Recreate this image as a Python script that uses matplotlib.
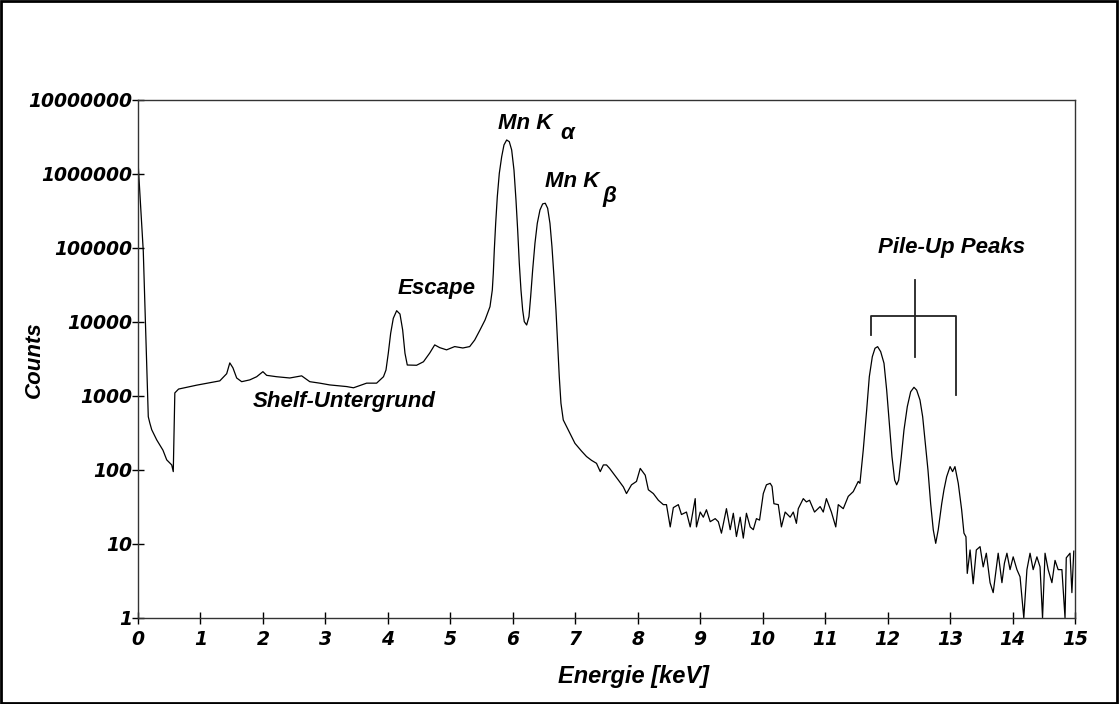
import matplotlib
matplotlib.use('Agg')
import matplotlib.pyplot as plt
from matplotlib.font_manager import FontProperties
from matplotlib.patches import Rectangle

# spectrum (energy in keV, counts)
energy = [0.00, 0.085, 0.165, 0.19, 0.22, 0.30, 0.40, 0.46, 0.54, 0.565, 0.59, 0.65,
          0.94, 1.31, 1.42, 1.47, 1.52, 1.58, 1.66, 1.79, 1.90, 2.00, 2.06, 2.22,
          2.43, 2.62, 2.75, 2.91, 3.07, 3.34, 3.45, 3.66, 3.82, 3.93, 3.97, 4.007,
          4.045, 4.087, 4.141, 4.194, 4.237, 4.274, 4.311, 4.46, 4.57, 4.67, 4.75, 4.83,
          4.94, 5.07, 5.20, 5.31, 5.39, 5.475, 5.555, 5.635, 5.672, 5.688, 5.704, 5.726,
          5.752, 5.784, 5.822, 5.859, 5.902, 5.944, 5.982, 6.019, 6.051, 6.078, 6.104, 6.131,
          6.158, 6.184, 6.222, 6.259, 6.286, 6.318, 6.355, 6.392, 6.435, 6.478, 6.520, 6.558,
          6.595, 6.627, 6.659, 6.691, 6.718, 6.744, 6.771, 6.808, 6.862, 6.915, 6.995, 7.10,
          7.18, 7.26, 7.34, 7.40, 7.45, 7.50, 7.55, 7.61, 7.69, 7.77, 7.82, 7.90,
          7.98, 8.04, 8.12, 8.17, 8.25, 8.33, 8.41, 8.46, 8.52, 8.57, 8.65, 8.70,
          8.78, 8.84, 8.92, 8.94, 9.00, 9.05, 9.10, 9.16, 9.24, 9.29, 9.34, 9.42,
          9.48, 9.53, 9.58, 9.64, 9.69, 9.74, 9.80, 9.85, 9.90, 9.95, 10.01, 10.06,
          10.12, 10.15, 10.18, 10.25, 10.30, 10.36, 10.44, 10.49, 10.54, 10.57, 10.65, 10.70,
          10.75, 10.83, 10.92, 10.97, 11.02, 11.10, 11.17, 11.21, 11.29, 11.37, 11.45, 11.53,
          11.557, 11.61, 11.665, 11.707, 11.755, 11.798, 11.84, 11.889, 11.942, 11.985, 12.027, 12.07,
          12.113, 12.145, 12.177, 12.219, 12.262, 12.315, 12.369, 12.422, 12.465, 12.518, 12.561, 12.603,
          12.646, 12.689, 12.731, 12.77, 12.81, 12.866, 12.902, 12.945, 13.00, 13.04, 13.078, 13.131,
          13.185, 13.222, 13.254, 13.275, 13.32, 13.37, 13.42, 13.48, 13.53, 13.58, 13.64, 13.69,
          13.77, 13.83, 13.87, 13.91, 13.96, 14.01, 14.07, 14.12, 14.18, 14.23, 14.28, 14.33,
          14.39, 14.44, 14.48, 14.52, 14.57, 14.63, 14.68, 14.73, 14.79, 14.84, 14.86, 14.92,
          14.95, 14.98]
counts = [1.5e6, 9e4, 525, 430, 350, 255, 185, 137, 117, 95, 1100, 1240,
          1400, 1600, 2000, 2800, 2400, 1750, 1560, 1650, 1820, 2130, 1900, 1820,
          1750, 1870, 1560, 1490, 1410, 1340, 1290, 1490, 1490, 1820, 2240, 3780,
          7030, 11200, 14200, 12800, 7800, 3780, 2620, 2600, 2900, 3800, 4900, 4500,
          4200, 4650, 4450, 4650, 5700, 7800, 10600, 16100, 27000, 45500, 94000, 2.15e5,
          4.93e5, 1.02e6, 1.71e6, 2.47e6, 2.88e6, 2.73e6, 2.11e6, 1.13e6, 4.45e5, 1.75e5, 62100, 27000,
          14500, 10100, 9100, 11800, 22000, 50400, 1.16e5, 2.15e5, 3.26e5, 3.94e5, 4.02e5, 3.44e5,
          2.15e5, 1.04e5, 41000, 14500, 5150, 1820, 796, 474, 385, 313, 229, 180,
          152, 135, 123, 95, 117, 117, 105, 90, 73, 59, 48, 63,
          70, 105, 85, 54, 48, 39, 34, 34, 17, 31, 34, 25,
          27, 17, 41, 17, 27, 23, 29, 20, 22, 20, 14, 30,
          15.6, 26, 12.6, 23, 12, 26, 17, 15.6, 22, 21, 48, 63,
          66, 60, 35, 34, 17, 27, 23, 27, 19, 30, 41, 37,
          39, 27, 32, 27, 41, 27, 17, 34, 30, 44, 51, 70,
          66, 186, 650, 1820, 3390, 4410, 4640, 3970, 2770, 1200, 428, 151,
          73, 63, 73, 151, 347, 717, 1140, 1310, 1200, 883, 525, 229,
          100, 35, 15.5, 10.2, 15.5, 35, 54, 81, 111, 95, 111, 66,
          29, 14, 12.5, 4, 8.3, 2.9, 8.3, 9.2, 4.9, 7.5, 3, 2.2,
          7.5, 3, 5.5, 7.5, 4.5, 6.7, 4.5, 3.6, 1, 4.5, 7.5, 4.5,
          6.7, 4.9, 1, 7.5, 4.5, 3, 6, 4.5, 4.5, 1, 6.5, 7.5,
          2.2, 8]

y_ticks = [1, 10, 100, 1000, 10000, 100000, 1000000, 10000000]
y_labels = ['1', '10', '100', '1000', '10000', '100000', '1000000', '10000000']
x_ticks = list(range(16))

# pile-up bracket
bracket_x = [11.74, 11.74, 13.10, 13.10]
bracket_y = [6600, 12000, 12000, 1030]
center_x = [12.44, 12.44]
center_y = [37000, 3370]

fig = plt.figure(figsize=(11.19, 7.04), dpi=100)
ax = fig.add_axes([0.1233, 0.1222, 0.8374, 0.7358])

ax.plot(energy, counts, color='black', lw=0.9)
ax.plot(bracket_x, bracket_y, color='#222222', lw=1.3)
ax.plot(center_x, center_y, color='#222222', lw=1.3)

ax.set_yscale('log')
ax.set_xlim(0, 15)
ax.set_ylim(1, 1e7)
ax.set_yticks(y_ticks)
ax.set_yticklabels(y_labels)
ax.set_xticks(x_ticks)
ax.set_xticklabels([str(t) for t in x_ticks])
ax.minorticks_off()

tickfont = FontProperties(family='DejaVu Sans', weight='bold', style='oblique', size=13.5)
for lab in ax.get_xticklabels() + ax.get_yticklabels():
    lab.set_fontproperties(tickfont)
ax.tick_params(direction='inout', length=9, width=1, colors='black')
ax.tick_params(axis='y', pad=0)
ax.tick_params(axis='x', pad=4)

for s in ax.spines.values():
    s.set_linewidth(1.0)
    s.set_color('#333333')

lab = dict(family='Liberation Sans', weight='bold', style='italic', size=16)
ax.text(5.76, 4.8e6, 'Mn K', va='center', ha='left', **lab)
ax.text(6.755, 3.5e6, 'α', va='center', ha='left', **lab)
ax.text(6.515, 8.0e5, 'Mn K', va='center', ha='left', **lab)
ax.text(7.43, 5.0e5, 'β', va='center', ha='left', **lab)
ax.text(4.16, 27900, 'Escape', va='center', ha='left', **lab)
ax.text(1.84, 855, 'Shelf-Untergrund', va='center', ha='left', **lab)
ax.text(11.85, 1.0e5, 'Pile-Up Peaks', va='center', ha='left', **lab)

fig.text(34 / 1119, 1 - 360 / 704, 'Counts', rotation=90, ha='center', va='center',
         family='Liberation Sans', weight='bold', style='italic', size=16)
fig.text(633 / 1119, 1 - 676 / 704, 'Energie [keV]', ha='center', va='center',
         family='Liberation Sans', weight='bold', style='italic', size=17)

fig.patches.append(Rectangle((0.001, 0.002), 0.997, 0.996, transform=fig.transFigure,
                             fill=False, edgecolor='black', lw=2))

fig.savefig('out.png', dpi=100)
